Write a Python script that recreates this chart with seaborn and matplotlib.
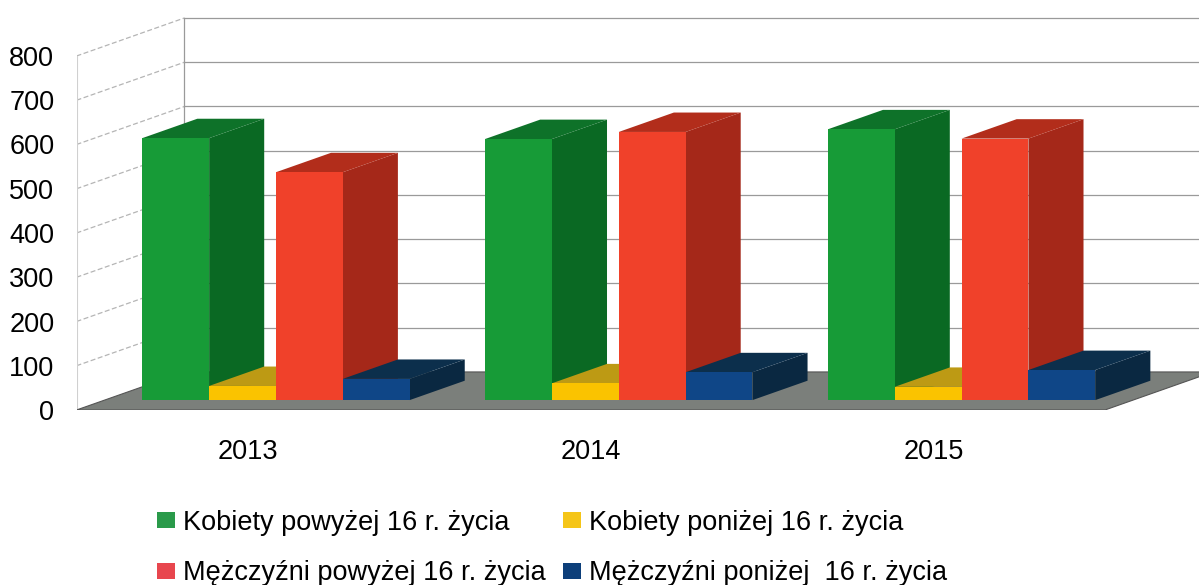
import pandas as pd
import matplotlib
matplotlib.use('Agg')
import matplotlib.pyplot as plt
import seaborn as sns
from matplotlib.patches import Polygon, Patch

lata = ['2013', '2014', '2015']
grupy = ['Kobiety powyżej 16 r. życia', 'Kobiety poniżej 16 r. życia',
         'Mężczyźni powyżej 16 r. życia', 'Mężczyźni poniżej  16 r. życia']
kobiety_pow16 = [592, 590, 612]
kobiety_pon16 = [32, 38, 30]
mezczyzni_pow16 = [515, 606, 591]
mezczyzni_pon16 = [48, 63, 68]
y_ticks = [0, 100, 200, 300, 400, 500, 600, 700, 800]

kolory_przod = ['#179b37', '#fac300', '#f0412a', '#0f4687']
kolory_bok = ['#0a6923', '#a88a10', '#a52819', '#0a2841']
kolory_gora = ['#0e7229', '#bd9a14', '#b22d1b', '#0c2f4c']
kolory_legendy = ['#2a9a4a', '#f5c518', '#e8464e', '#0d3f7a']

df = pd.DataFrame({
    'rok': lata * 4,
    'grupa': [g for g in grupy for _ in lata],
    'wartosc': kobiety_pow16 + kobiety_pon16 + mezczyzni_pow16 + mezczyzni_pon16,
})

# pseudo-3D: depth shift in data units
DX = 0.315
DY = 86.0
d0, d1 = 0.26, 0.77
x_lo, x_hi = -0.5, 2.5

fig = plt.figure(figsize=(11.99, 5.85), dpi=100)
ax = fig.add_axes([76.5 / 1199, 175 / 585, 1122 / 1199, 920 * 0.4425 / 585])

sns.barplot(data=df, x='rok', y='wartosc', hue='grupa', hue_order=grupy,
            palette=kolory_przod, saturation=1, width=0.78, legend=False,
            linewidth=0, ax=ax)

ax.set_xlim(-0.5, 2.773)
ax.set_ylim(0, 920)

# walls and floor
floor = Polygon([(x_lo, 0), (x_lo + DX, DY), (x_hi + 5 * DX, DY),
                 (x_hi + DX, DY), (x_hi, 0)],
                closed=True, facecolor='#7b7f7b', edgecolor='#555555', lw=0.8, zorder=1)
ax.add_patch(floor)
for v in y_ticks[1:]:
    ax.plot([x_lo + DX, 4], [v + DY, v + DY], color='#9a9a9a', lw=0.9, zorder=0.5)
    ax.plot([x_lo, x_lo + DX], [v, v + DY], color='#b5b5b5', lw=0.9, ls=(0, (4, 2)), zorder=0.5)
ax.plot([x_lo + DX, x_lo + DX], [DY, 800 + DY], color='#9a9a9a', lw=0.9, zorder=0.5)
ax.plot([x_lo, x_lo], [0, 800], color='#d0d0d0', lw=0.8, zorder=0.5)

# shift front faces back and add side / top faces
bary = []
for i, cont in enumerate(ax.containers):
    for p in cont.patches:
        bary.append((p.get_x(), i, p))
bary.sort(key=lambda b: b[0])
for k, (x0, i, p) in enumerate(bary):
    w = p.get_width()
    h = p.get_height()
    z = 3 + k * 0.01
    p.set_x(x0 + d0 * DX)
    p.set_y(d0 * DY)
    p.set_zorder(z + 0.002)
    xr = x0 + w
    bok = Polygon([(xr + d0 * DX, d0 * DY), (xr + d1 * DX, d1 * DY),
                   (xr + d1 * DX, h + d1 * DY), (xr + d0 * DX, h + d0 * DY)],
                  closed=True, facecolor=kolory_bok[i], edgecolor='none', zorder=z)
    gora = Polygon([(x0 + d0 * DX, h + d0 * DY), (x0 + d1 * DX, h + d1 * DY),
                    (xr + d1 * DX, h + d1 * DY), (xr + d0 * DX, h + d0 * DY)],
                   closed=True, facecolor=kolory_gora[i], edgecolor='none', zorder=z + 0.001)
    ax.add_patch(bok)
    ax.add_patch(gora)

ax.set_yticks(y_ticks)
ax.set_xlabel('')
ax.set_ylabel('')
for s in ax.spines.values():
    s.set_visible(False)
ax.tick_params(axis='y', length=0, pad=16, labelsize=19.5)
ax.tick_params(axis='x', length=0, pad=21, labelsize=19.5)
for t in ax.get_xticklabels() + ax.get_yticklabels():
    t.set_fontfamily('Liberation Sans')

uchwyty = [Patch(facecolor=c, edgecolor='none') for c in kolory_legendy]
kolej = [0, 2, 1, 3]
leg = fig.legend([uchwyty[j] for j in kolej], [grupy[j] for j in kolej],
                 loc='upper left', bbox_to_anchor=(157 / 1199, 1 - 510 / 585),
                 ncol=2, frameon=False, handlelength=0.65, handleheight=0.53,
                 handletextpad=0.3, columnspacing=0.65, labelspacing=0.9,
                 borderpad=0, borderaxespad=0,
                 prop={'family': 'Liberation Sans', 'size': 19.5})

fig.savefig('out.png', dpi=100, facecolor='white')
